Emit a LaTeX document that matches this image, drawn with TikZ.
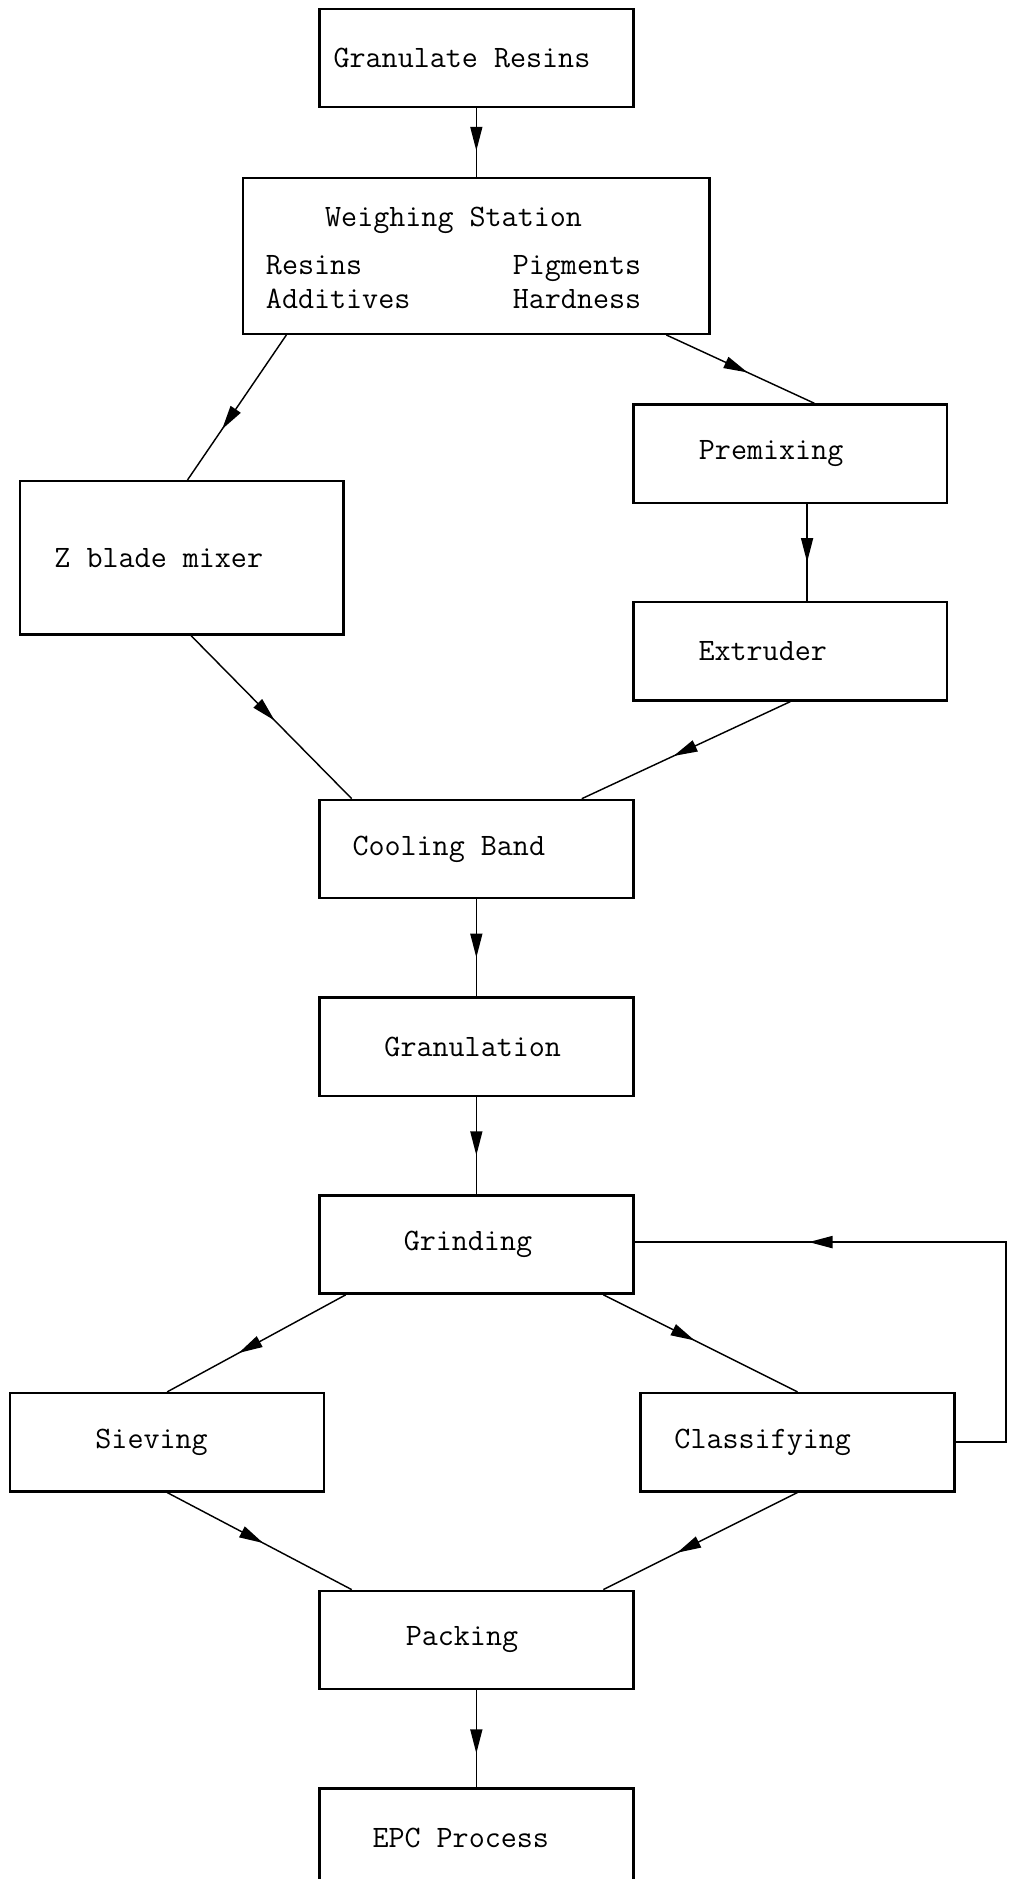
\documentclass[tikz,border=0pt]{standalone}
\usetikzlibrary{arrows.meta,decorations.markings}

\begin{document}
\begin{tikzpicture}[>={Triangle[length=10pt,width=5pt]},node distance=82.5pt,
                    line width=0.6pt,
                    box/.style={rectangle,draw,line width=1pt,minimum width=131pt,minimum height=41pt,
                                font=\fontsize{13}{14}\selectfont\ttfamily},
                    flow/.style={postaction={decorate},
                                 decoration={markings,mark=at position #1 with {\arrow{>}}}},
                    flow/.default=0.6]

  \useasboundingbox (-198.75pt,24.25pt) rectangle (223.75pt,-759.75pt);

  \node[box] (gran) {Granulate Resins\hspace*{12pt}};
  \node[box,minimum width=194.5pt,minimum height=65pt] (weigh) [below of=gran]
    {\raisebox{0pt}[\dimexpr\height+4pt\relax]{\begin{tabular}{@{}p{103pt}@{}l@{}}
       \multicolumn{2}{c}{Weighing Station}\\[6pt]
       Resins & Pigments\\
       Additives & Hardness
     \end{tabular}}\hspace*{19pt}};
  \node[box] (premix) [below of=weigh,xshift=131pt] {Premixing\hspace*{16pt}};
  \node[box] (extr) [below of=premix] {Extruder\hspace*{23pt}};
  \node[box,minimum width=135pt,minimum height=64pt,node distance=126pt] (zblade)
    [below of=weigh,xshift=-123pt] {Z blade mixer\hspace*{19pt}};
  \node[box] (cool) [below of=extr,xshift=-131pt] {Cooling Band\hspace*{23pt}};
  \node[box] (granul) [below of=cool] {Granulation\hspace*{3pt}};
  \node[box] (grind) [below of=granul] {Grinding\hspace*{7pt}};
  \node[box] (sieve) [below of=grind,xshift=-129pt] {Sieving\hspace*{13pt}};
  \node[box] (class) [below of=grind,xshift=134pt] {Classifying\hspace*{29pt}};
  \node[box] (pack) [below of=sieve,xshift=129pt] {Packing\hspace*{12pt}};
  \node[box] (epc) [below of=pack] {EPC Process\hspace*{13pt}};

  \draw[flow=0.62] (gran) -- (weigh);
  \draw[flow=0.65] ([xshift=18.5pt]weigh.south west) -- ([xshift=2.5pt]zblade.north);
  \draw[flow=0.55] ([xshift=-18.5pt]weigh.south east) -- ([xshift=10pt]premix.north);
  \draw[flow=0.6] ([xshift=7pt]premix.south) -- ([xshift=7pt]extr.north);
  \draw[flow=0.52] ([xshift=4pt]zblade.south) -- ([xshift=14pt]cool.north west);
  \draw[flow=0.56] (extr.south) -- ([xshift=-22pt]cool.north east);
  \draw[flow=0.6] (cool) -- (granul);
  \draw[flow=0.6] (granul) -- (grind);
  \draw[flow=0.6] ([xshift=11.5pt]grind.south west) -- (sieve.north);
  \draw[flow=0.47] ([xshift=-13pt]grind.south east) -- (class.north);
  \draw[flow=0.52] (sieve.south) -- ([xshift=14pt]pack.north west);
  \draw[flow=0.62] (class.south) -- ([xshift=-13pt]pack.north east);
  \draw[flow=0.72,line width=0.9pt] (class.east) -- ++(21pt,0) |- ([yshift=1pt]grind.east);
  \draw[flow=0.65] (pack) -- (epc);
\end{tikzpicture}
\end{document}
